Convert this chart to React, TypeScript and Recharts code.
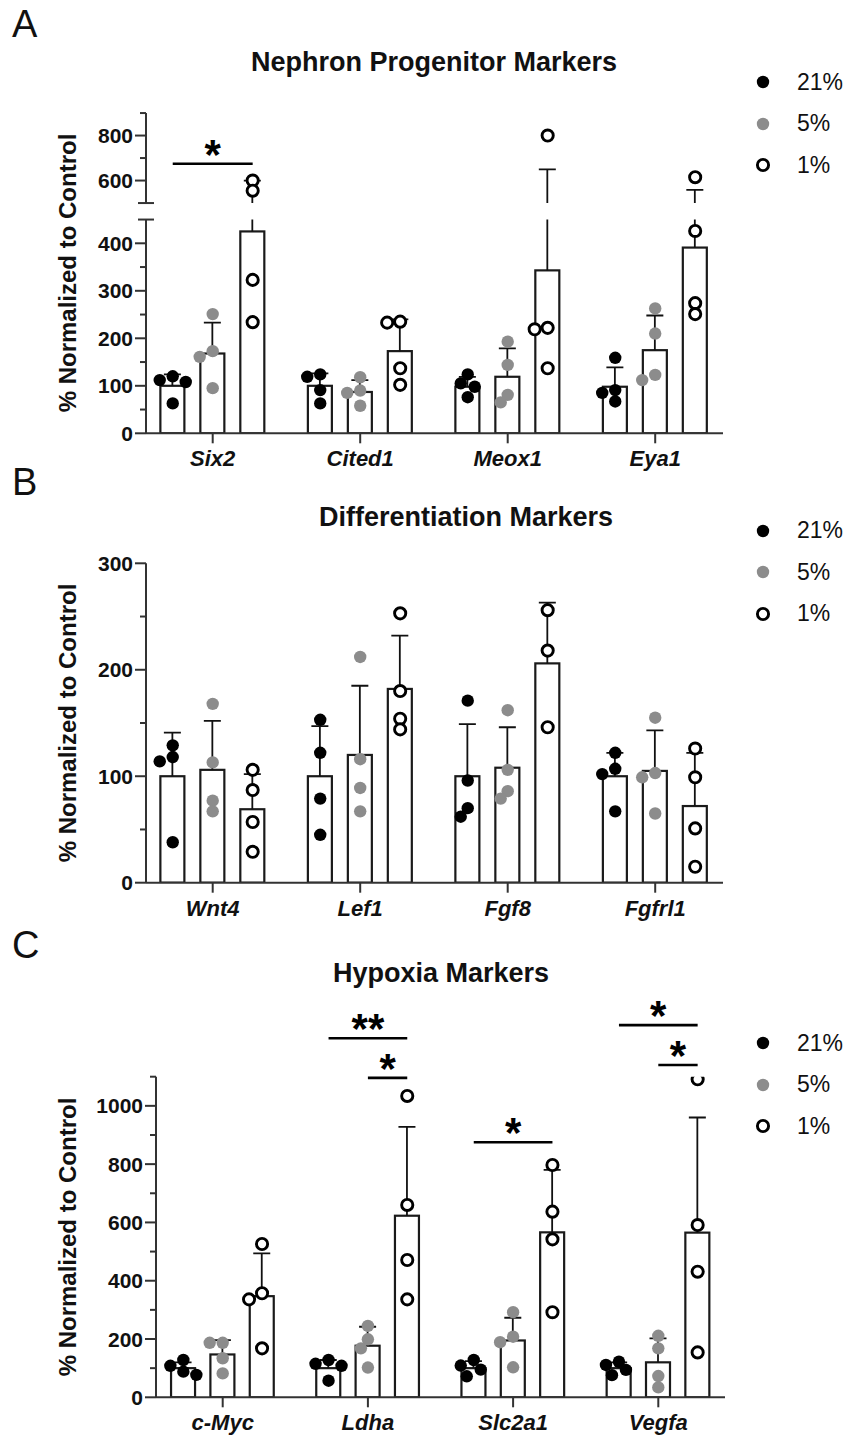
import React from "react";
import { Bar, ComposedChart, Legend, ReferenceLine, Scatter, XAxis, YAxis } from "recharts";

const FONT = '"Liberation Sans", Arial, Helvetica, sans-serif';
const GRAY = "#8c8c8c";
const AXIS = "#333";
const CONDS = ["21%", "5%", "1%"];

// A: nephron progenitor markers
const genesA = ["Six2", "Cited1", "Meox1", "Eya1"];
const meanA21 = [100, 100, 98, 98];
const sdA21 = [24, 26, 21, 41];
const meanA5 = [168, 87, 119, 175];
const sdA5 = [65, 25, 60, 73];
const meanA1 = [425, 173, 343, 391];
const sdA1 = [175, 67, 307, 168];
const ptsA21 = [[120, 112, 108, 63], [124, 119, 91, 63], [124, 105, 98, 76], [159, 91, 85, 67]];
const ptsA5 = [[251, 173, 161, 95], [118, 90, 85, 58], [193, 144, 81, 65], [263, 210, 123, 112]];
const ptsA1 = [[600, 555, 323, 234], [235, 233, 137, 102], [800, 222, 219, 137], [615, 426, 274, 251]];
const sigA = [{ gene: 0, from: 0, to: 2, y: 675, label: "*" }];
const ticksA = [0, 50, 100, 150, 200, 250, 300, 350, 400, 450, 500, 600, 700, 800, 900];
const labelsA = [0, 100, 200, 300, 400, 600, 800];
const breaksA = [450, 500];

// B: differentiation markers
const genesB = ["Wnt4", "Lef1", "Fgf8", "Fgfrl1"];
const meanB21 = [100, 100, 100, 100];
const sdB21 = [41, 47, 49, 22];
const meanB5 = [106, 120, 108, 105];
const sdB5 = [46, 65, 38, 38];
const meanB1 = [69, 182, 206, 72];
const sdB1 = [33, 50, 57, 50];
const ptsB21 = [[129, 118, 114, 38], [153, 122, 79, 45], [171, 96, 70, 62], [122, 107, 102, 67]];
const ptsB5 = [[168, 113, 77, 67], [212, 116, 89, 67], [162, 106, 86, 79], [155, 103, 99, 65]];
const ptsB1 = [[106, 87, 57, 29], [253, 180, 154, 144], [256, 218, 146], [126, 99, 51, 15]];
const ticksB = [0, 50, 100, 150, 200, 250, 300];
const labelsB = [0, 100, 200, 300];

// C: hypoxia markers
const genesC = ["c-Myc", "Ldha", "Slc2a1", "Vegfa"];
const meanC21 = [100, 100, 100, 100];
const sdC21 = [20, 28, 24, 20];
const meanC5 = [147, 177, 195, 120];
const sdC5 = [49, 65, 78, 82];
const meanC1 = [347, 623, 566, 565];
const sdC1 = [147, 305, 214, 395];
const ptsC21 = [[128, 108, 88, 77], [128, 115, 108, 57], [128, 109, 95, 72], [122, 111, 94, 76]];
const ptsC5 = [[187, 187, 134, 82], [245, 199, 168, 102], [292, 208, 189, 103], [211, 168, 73, 34]];
const ptsC1 = [[526, 357, 336, 168], [1034, 660, 471, 336], [797, 637, 542, 292], [1091, 591, 431, 154]];
const sigC = [
  { gene: 1, from: 0, to: 2, y: 1232, label: "**" },
  { gene: 1, from: 1, to: 2, y: 1096, label: "*" },
  { gene: 2, from: 0, to: 2, y: 875, label: "*" },
  { gene: 3, from: 0, to: 2, y: 1277, label: "*" },
  { gene: 3, from: 1, to: 2, y: 1140, label: "*" },
];
const ticksC = [0, 100, 200, 300, 400, 500, 600, 700, 800, 900, 1000, 1100];
const labelsC = [0, 200, 400, 600, 800, 1000];

// broken y axis of panel A: 0-450 below, 500-900 above
const LOW_PX = 213.75;
const GAP_PX = 16.5;
const HIGH_PX = 90;
const breakScale = (v: number) =>
  v <= 450 ? (v / 450) * LOW_PX : LOW_PX + GAP_PX + ((v - 500) / 400) * HIGH_PX;
const identity = (v: number) => v;

const BAR_OFF = 0.271;
const BAR_W = 24;

type Sig = { gene: number; from: number; to: number; y: number; label: string };

type PanelSpec = {
  letter: string;
  title: string;
  titleX: number;
  titleY: number;
  letterY: number;
  top: number;
  height: number;
  plotLeft: number;
  plotRight: number;
  plotTop: number;
  plotBottom: number;
  center0: number;
  step: number;
  genes: string[];
  means: number[][];
  sds: number[][];
  pts: number[][][];
  sig: Sig[];
  f: (v: number) => number;
  yTop: number;
  ticks: number[];
  labels: number[];
  breaks: number[];
  legendY: number;
};

const panels: PanelSpec[] = [
  {
    letter: "A", title: "Nephron Progenitor Markers", titleX: 434, titleY: 62, letterY: 24,
    top: 0, height: 480, plotLeft: 146, plotRight: 723, plotTop: 433.3 - (LOW_PX + GAP_PX + HIGH_PX), plotBottom: 433.3,
    center0: 212.7, step: 147.5, genes: genesA,
    means: [meanA21, meanA5, meanA1], sds: [sdA21, sdA5, sdA1], pts: [ptsA21, ptsA5, ptsA1],
    sig: sigA, f: breakScale, yTop: 900, ticks: ticksA, labels: labelsA, breaks: breaksA, legendY: 82,
  },
  {
    letter: "B", title: "Differentiation Markers", titleX: 466, titleY: 517, letterY: 482,
    top: 480, height: 460, plotLeft: 146, plotRight: 723, plotTop: 563.3, plotBottom: 882.7,
    center0: 212.7, step: 147.5, genes: genesB,
    means: [meanB21, meanB5, meanB1], sds: [sdB21, sdB5, sdB1], pts: [ptsB21, ptsB5, ptsB1],
    sig: [], f: identity, yTop: 300, ticks: ticksB, labels: labelsB, breaks: [], legendY: 530.5,
  },
  {
    letter: "C", title: "Hypoxia Markers", titleX: 441, titleY: 973, letterY: 945,
    top: 940, height: 497, plotLeft: 156, plotRight: 725, plotTop: 1076.7, plotBottom: 1397.3,
    center0: 222.7, step: 145.2, genes: genesC,
    means: [meanC21, meanC5, meanC1], sds: [sdC21, sdC5, sdC1], pts: [ptsC21, ptsC5, ptsC1],
    sig: sigC, f: identity, yTop: 1100, ticks: ticksC, labels: labelsC, breaks: [], legendY: 1043.3,
  },
];

// place overlapping points side by side, like a prism scatter
function spread(py: number[]): number[] {
  const order = py.map((_, i) => i).sort((a, b) => py[b] - py[a]);
  const placed: { dx: number; y: number }[] = [];
  const out = py.map(() => 0);
  const cand = [0, -7, 7, -13, 13];
  for (const i of order) {
    const dx = cand.find(c => placed.every(p => Math.hypot(p.dx - c, p.y - py[i]) >= 10)) ?? 0;
    placed.push({ dx, y: py[i] });
    out[i] = dx;
  }
  return out;
}

function Marker({ cond, cx, cy }: { cond: string; cx: number; cy: number }) {
  if (cond === "1%") return <circle cx={cx} cy={cy} r={5.6} fill="#fff" stroke="#000" strokeWidth={2.9} />;
  return <circle cx={cx} cy={cy} r={6.2} fill={cond === "21%" ? "#000" : GRAY} />;
}

const ROW_H = 41.5;

function LegendBox(props: any) {
  const items = (props.payload || [])
    .filter((e: any) => CONDS.includes(e.value))
    .sort((a: any, b: any) => CONDS.indexOf(a.value) - CONDS.indexOf(b.value));
  return (
    <div style={{ fontFamily: FONT }}>
      {items.map((e: any) => (
        <div key={e.value} style={{ display: "flex", alignItems: "center", height: ROW_H }}>
          <svg width={26} height={20}>
            <Marker cond={e.value} cx={13} cy={10} />
          </svg>
          <span style={{ marginLeft: 21, fontSize: 23, color: "#111" }}>{e.value}</span>
        </div>
      ))}
    </div>
  );
}

function Panel({ p }: { p: PanelSpec }) {
  const W = 849;
  const YW = 60;
  const XH = 40;
  const plotH = p.plotBottom - p.plotTop;
  const yTopT = p.f(p.yTop);
  const pxPer = plotH / yTopT;
  const d0 = (p.plotLeft - p.center0) / p.step;
  const d1 = (p.plotRight - p.center0) / p.step;
  const baseY = p.plotBottom - p.top;
  const brk = p.breaks.length ? p.breaks.map(p.f) : null;

  const bars = p.genes.flatMap((g, gi) =>
    CONDS.map((c, ci) => ({
      x: gi + (ci - 1) * BAR_OFF,
      v: p.f(p.means[ci][gi]),
      hi: p.f(p.means[ci][gi] + p.sds[ci][gi]),
    }))
  );

  const points = CONDS.map((c, ci) =>
    p.genes.flatMap((g, gi) => {
      const vals = p.pts[ci][gi];
      const off = spread(vals.map(v => p.f(v) * pxPer));
      return vals.map((v, k) => ({ x: gi + (ci - 1) * BAR_OFF + off[k] / p.step, v: p.f(v) }));
    })
  );

  const barShape = (props: any) => {
    const { x, y, width, height } = props;
    const row = props.payload ?? props;
    const bottom = y + height;
    const k = row.v > 0 ? height / row.v : 0;
    const cx = x + width / 2;
    const yHi = bottom - row.hi * k;
    const segs: number[][] = [];
    if (brk && row.v < brk[0] && row.hi > brk[1]) {
      segs.push([y, bottom - brk[0] * k]);
      segs.push([bottom - brk[1] * k, yHi]);
    } else {
      segs.push([y, yHi]);
    }
    return (
      <g>
        <rect x={cx - BAR_W / 2} y={y} width={BAR_W} height={height} fill="#fff" stroke="#1a1a1a" strokeWidth={2.2} />
        {segs.map((s, i) => (
          <line key={i} x1={cx} x2={cx} y1={s[0]} y2={s[1]} stroke="#111" strokeWidth={1.8} />
        ))}
        <line x1={cx - 8.5} x2={cx + 8.5} y1={yHi} y2={yHi} stroke="#111" strokeWidth={1.8} />
      </g>
    );
  };

  const yTick = (t: any) => {
    const raw = p.ticks[t.index];
    const isBreak = p.breaks.includes(raw);
    const isMajor = p.labels.includes(raw);
    const len = isMajor ? 11 : 6;
    return (
      <g>
        {isBreak ? (
          <line x1={p.plotLeft - 8} x2={p.plotLeft + 8} y1={t.y} y2={t.y} stroke={AXIS} strokeWidth={2} />
        ) : (
          <line x1={p.plotLeft - len} x2={p.plotLeft} y1={t.y} y2={t.y} stroke={AXIS} strokeWidth={2} />
        )}
        {isMajor && (
          <text x={p.plotLeft - 13} y={t.y} dy="0.36em" textAnchor="end" fontFamily={FONT} fontWeight="bold" fontSize={21} fill="#111">
            {raw}
          </text>
        )}
      </g>
    );
  };

  const xTick = (t: any) => (
    <g>
      <line x1={t.x} x2={t.x} y1={baseY} y2={baseY + 10} stroke={AXIS} strokeWidth={2} />
      <text x={t.x} y={baseY + 25} dy="0.36em" textAnchor="middle" fontFamily={FONT} fontWeight="bold" fontStyle="italic" fontSize={22} fill="#111">
        {p.genes[Math.round(t.payload.value)]}
      </text>
    </g>
  );

  const sigShape = (label: string) => (s: any) => (
    <g>
      <line x1={s.x1} x2={s.x2} y1={s.y1} y2={s.y2} stroke="#000" strokeWidth={2.6} />
      <text x={(s.x1 + s.x2) / 2} y={s.y1 + 5} textAnchor="middle" fontFamily={FONT} fontWeight="bold" fontSize={42} fill="#000">
        {label}
      </text>
    </g>
  );

  return (
    <div style={{ position: "absolute", left: 0, top: p.top, width: W, height: p.height }}>
      <ComposedChart
        width={W}
        height={p.height}
        data={bars}
        margin={{ top: p.plotTop - p.top, left: p.plotLeft - YW, right: W - p.plotRight, bottom: p.top + p.height - p.plotBottom - XH }}
      >
        <XAxis
          type="number"
          dataKey="x"
          domain={[d0, d1]}
          allowDataOverflow
          ticks={[0, 1, 2, 3]}
          interval={0}
          height={XH}
          tickLine={false}
          axisLine={{ stroke: AXIS, strokeWidth: 2 }}
          tick={xTick}
        />
        <YAxis
          type="number"
          domain={[0, yTopT]}
          allowDataOverflow
          ticks={p.ticks.map(p.f)}
          interval={0}
          width={YW}
          tickLine={false}
          axisLine={brk ? false : { stroke: AXIS, strokeWidth: 2 }}
          tick={yTick}
        />
        {brk && (
          <ReferenceLine segment={[{ x: d0, y: 0 }, { x: d0, y: brk[0] }]} stroke={AXIS} strokeWidth={2} ifOverflow="visible" />
        )}
        {brk && (
          <ReferenceLine segment={[{ x: d0, y: brk[1] }, { x: d0, y: yTopT }]} stroke={AXIS} strokeWidth={2} ifOverflow="visible" />
        )}
        <Bar dataKey="v" barSize={BAR_W} shape={barShape} legendType="none" isAnimationActive={false} />
        {CONDS.map((c, ci) => (
          <Scatter
            key={c}
            name={c}
            data={points[ci]}
            dataKey="v"
            fill={ci === 1 ? GRAY : "#000"}
            shape={(s: any) => <Marker cond={c} cx={s.cx} cy={s.cy} />}
            isAnimationActive={false}
          />
        ))}
        {p.sig.map((s, i) => (
          <ReferenceLine
            key={i}
            segment={[
              { x: s.gene + (s.from - 1) * BAR_OFF, y: p.f(s.y) },
              { x: s.gene + (s.to - 1) * BAR_OFF, y: p.f(s.y) },
            ]}
            ifOverflow="visible"
            shape={sigShape(s.label)}
          />
        ))}
        <Legend
          layout="vertical"
          align="center"
          verticalAlign="middle"
          content={LegendBox}
          wrapperStyle={{ left: 750, top: p.legendY - p.top - ROW_H / 2, width: 99 }}
        />
      </ComposedChart>
      <div
        style={{
          position: "absolute", left: 68, top: (p.plotTop + p.plotBottom) / 2 - p.top,
          transform: "translate(-50%, -50%) rotate(-90deg)", whiteSpace: "nowrap",
          fontFamily: FONT, fontWeight: "bold", fontSize: 24, lineHeight: 1, color: "#111",
        }}
      >
        % Normalized to Control
      </div>
    </div>
  );
}

export default function App() {
  return (
    <div style={{ position: "absolute", left: 0, top: 0, width: 849, height: 1437, background: "#fff", overflow: "hidden" }}>
      {panels.map(p => (
        <React.Fragment key={p.letter}>
          <div style={{ position: "absolute", left: 12, top: p.letterY, transform: "translateY(-50%)", fontFamily: FONT, fontSize: 38, lineHeight: 1, color: "#111" }}>
            {p.letter}
          </div>
          <div style={{ position: "absolute", left: p.titleX, top: p.titleY, transform: "translate(-50%, -50%)", whiteSpace: "nowrap", fontFamily: FONT, fontWeight: "bold", fontSize: 27, lineHeight: 1, color: "#111" }}>
            {p.title}
          </div>
        </React.Fragment>
      ))}
      {panels.map(p => (
        <Panel key={p.letter} p={p} />
      ))}
    </div>
  );
}
